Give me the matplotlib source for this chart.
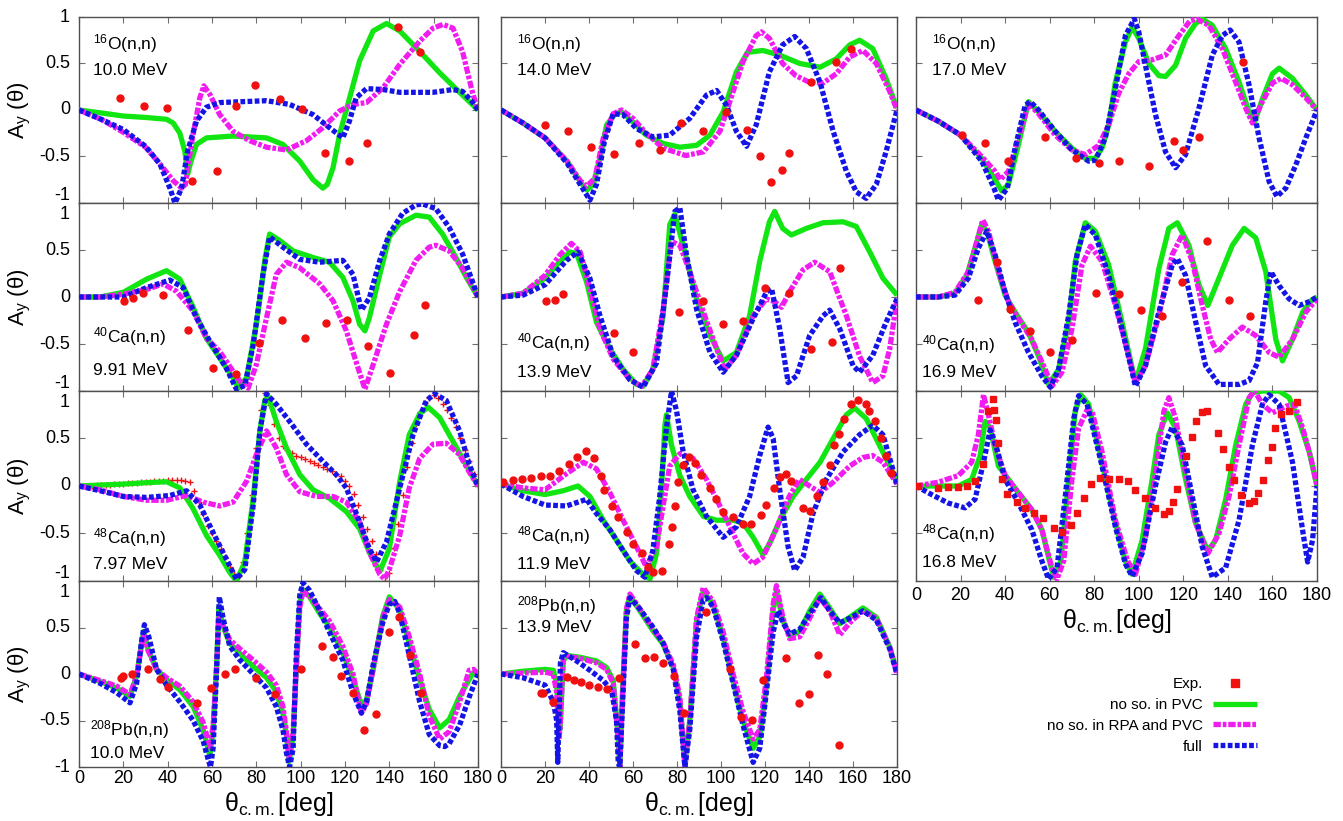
import matplotlib
matplotlib.use('Agg')
import matplotlib.pyplot as plt
from matplotlib.lines import Line2D

plt.rcParams['font.family'] = ['Liberation Sans', 'DejaVu Sans']
plt.rcParams['mathtext.fontset'] = 'custom'
plt.rcParams['mathtext.rm'] = 'Liberation Sans'
plt.rcParams['mathtext.it'] = 'Liberation Sans:italic'
plt.rcParams['mathtext.bf'] = 'Liberation Sans:bold'

# ---------------- data: (angle [deg], A_y) ----------------
O10_green = [(0,0),(9.5,-0.03),(20,-0.065),(30,-0.08),(39.5,-0.1),(42.5,-0.14),(45.5,-0.25),(47.8,-0.45),(49,-0.69),(50.5,-0.55),(53,-0.37),(57.5,-0.3),(69.5,-0.28),(84.6,-0.3),(92,-0.37),(99.6,-0.55),(105.6,-0.75),(110,-0.84),(112,-0.8),(114.6,-0.62),(117.6,-0.26),(120.6,0),(126.6,0.53),(132.7,0.85),(138.7,0.93),(144.7,0.85),(153.7,0.63),(162.7,0.4),(171.7,0.19),(180,0)]
O10_mag = [(0,0),(10,-0.1),(20,-0.24),(30,-0.4),(36.5,-0.58),(42.5,-0.76),(46.3,-0.84),(48,-0.8),(49,-0.62),(51.5,-0.26),(54.5,0.13),(56.3,0.26),(59,0.17),(63.5,-0.05),(69.5,-0.23),(77,-0.33),(84.6,-0.4),(93.6,-0.43),(102.6,-0.33),(110,-0.19),(117.6,-0.01),(123.6,0.06),(129.7,0.08),(137.2,0.24),(144.7,0.49),(153.7,0.74),(159.7,0.88),(164.2,0.92),(168.7,0.88),(173,0.63),(177.7,0.17),(180,0)]
O10_blue = [(0,0),(10,-0.1),(20,-0.21),(30,-0.39),(36.5,-0.58),(41,-0.84),(43.3,-1.0),(46.3,-0.84),(49,-0.44),(53,-0.12),(57.5,0.03),(63.5,0.08),(84.6,0.1),(95,0.06),(105.6,-0.05),(113,-0.19),(119,-0.3),(122,-0.12),(125,0.13),(129.7,0.23),(137.2,0.22),(144.7,0.19),(159.7,0.19),(168.7,0.22),(173,0.2),(177,0.1),(180,0)]
O10_exp = [(18.5,0.125),(29.3,0.047),(39.5,0.025),(50.8,-0.76),(62.3,-0.66),(71,0.04),(79.6,0.265),(90.6,0.115),(100.8,0.007),(110.9,-0.46),(121.8,-0.55),(130,-0.36),(144,0.89),(153.7,0.62)]

O14_green = [(0,0),(10,-0.14),(20,-0.3),(30,-0.55),(36,-0.77),(39,-0.86),(42,-0.8),(45,-0.52),(48,-0.16),(52,-0.04),(54.8,-0.02),(60,-0.13),(66,-0.27),(73.7,-0.36),(81.3,-0.4),(88.9,-0.38),(95,-0.27),(101,-0.02),(107,0.41),(112,0.62),(119,0.64),(126.7,0.59),(135.8,0.5),(145,0.46),(152.4,0.55),(158.5,0.7),(163,0.75),(169,0.66),(175,0.34),(180,0.02)]
O14_mag = [(0,0),(10,-0.14),(20,-0.3),(30,-0.55),(36,-0.76),(39,-0.82),(42.7,-0.73),(46.5,-0.3),(51,-0.04),(54.8,0),(60,-0.09),(66,-0.25),(73.7,-0.41),(84,-0.49),(92,-0.45),(99.5,-0.23),(104,0.09),(110,0.52),(116,0.8),(118.4,0.84),(122,0.77),(128,0.5),(134,0.37),(140,0.3),(146.4,0.29),(152.4,0.39),(158.5,0.57),(164.5,0.64),(170.6,0.5),(176.7,0.2),(180,0)]
O14_blue = [(0,0),(10,-0.14),(20,-0.3),(30,-0.57),(36,-0.8),(40.4,-0.97),(43.4,-0.8),(47,-0.34),(51,-0.04),(55.5,-0.05),(61.6,-0.2),(69,-0.29),(76.7,-0.27),(85.8,-0.09),(93.4,0.16),(98,0.21),(102.5,0.05),(107,-0.23),(111.6,-0.39),(116,-0.16),(122,0.41),(128,0.7),(133.5,0.79),(138.8,0.66),(145,0.3),(151,-0.23),(157,-0.66),(161.5,-0.88),(166,-0.95),(170.6,-0.8),(175,-0.45),(180,0)]
O14_exp = [(20,-0.16),(30.6,-0.23),(40.9,-0.4),(51.2,-0.47),(62.8,-0.35),(72.4,-0.43),(81.7,-0.14),(91.9,-0.23),(102.5,-0.02),(111.6,-0.22),(117.8,-0.5),(122.8,-0.77),(127.8,-0.64),(130.8,-0.46),(140.8,0.3),(152.4,0.52),(159,0.66)]

O17_green = [(0,0),(10,-0.12),(20,-0.27),(29.5,-0.52),(35.5,-0.75),(38.5,-0.87),(41.5,-0.8),(46,-0.37),(50.5,0.09),(55,-0.02),(62.5,-0.23),(70,-0.41),(76,-0.52),(80.5,-0.52),(83.5,-0.41),(86.5,-0.16),(89.5,0.3),(94,0.73),(97,0.89),(100,0.77),(104.5,0.5),(109,0.37),(112,0.36),(116.5,0.48),(121,0.77),(125.5,0.93),(128.5,0.98),(133,0.91),(139,0.66),(145,0.3),(149.5,-0.02),(152,-0.13),(155.5,0.12),(160,0.39),(163,0.45),(169,0.34),(175,0.16),(180,0)]
O17_mag = [(0,0),(10,-0.12),(20,-0.27),(29.5,-0.5),(35.5,-0.66),(37.8,-0.75),(41.5,-0.66),(46,-0.3),(50.5,0.07),(55,-0.04),(62.5,-0.27),(70,-0.43),(76,-0.48),(82,-0.38),(86.5,-0.16),(91,0.18),(95.5,0.39),(100,0.52),(106,0.54),(112,0.59),(118,0.8),(123,0.96),(126,0.98),(131.5,0.91),(137.5,0.66),(143.5,0.3),(148,0.02),(151,-0.14),(155.5,0.09),(160,0.29),(164,0.34),(169,0.27),(175,0.13),(180,0)]
O17_blue = [(0,0),(10,-0.12),(20,-0.27),(29.5,-0.55),(35,-0.84),(37,-0.97),(41,-0.84),(44.5,-0.41),(49,0.05),(51.3,0.09),(55,0),(62.5,-0.23),(70,-0.43),(77.5,-0.55),(80.5,-0.54),(85,-0.3),(89.5,0.23),(94,0.8),(98,0.98),(100,0.84),(103,0.48),(107.5,-0.05),(112,-0.45),(116.5,-0.62),(121,-0.48),(127,0.02),(133,0.59),(137.5,0.8),(141,0.86),(145,0.73),(149.5,0.27),(154,-0.3),(158.5,-0.77),(162,-0.93),(166,-0.84),(170.5,-0.59),(175,-0.3),(180,0)]
O17_exp = [(20.8,-0.27),(31,-0.35),(41.5,-0.55),(58,-0.29),(72,-0.52),(82,-0.57),(91,-0.55),(104.8,-0.6),(115.8,-0.33),(119.8,-0.43),(127,-0.29),(147,0.52)]

Ca40a_green = [(0,0),(9.5,0),(20,0.05),(30.5,0.19),(39.5,0.28),(45.5,0.19),(51.5,-0.11),(57.5,-0.44),(63.5,-0.65),(69.5,-0.86),(71.8,-0.97),(75.6,-0.86),(80,-0.29),(84,0.42),(86,0.67),(90.6,0.6),(96.6,0.49),(105.6,0.42),(113,0.37),(119,0.21),(123.6,-0.04),(126.6,-0.29),(129,-0.36),(131,-0.22),(135.7,0.24),(140,0.64),(144.7,0.78),(152,0.87),(158,0.85),(164,0.67),(170,0.42),(174.7,0.21),(180,0)]
Ca40a_mag = [(0,0),(9.5,0),(20,0.03),(30.5,0.08),(38,0.14),(44,0.06),(51.5,-0.15),(57.5,-0.44),(63.5,-0.58),(69.5,-0.79),(74,-0.94),(76.3,-0.97),(80,-0.72),(84.6,-0.22),(89,0.24),(93.6,0.37),(99.6,0.31),(108.6,0.14),(114.6,-0.04),(120.6,-0.36),(125,-0.69),(129,-0.98),(132.7,-0.72),(138.7,-0.29),(144.7,0.06),(152,0.39),(158,0.53),(161,0.55),(167,0.49),(173,0.31),(180,0)]
Ca40a_blue = [(0,0),(20,0),(30.5,0.1),(41,0.18),(47,0.1),(53,-0.22),(59,-0.47),(66.5,-0.76),(71,-0.98),(74.8,-0.94),(78.6,-0.51),(83,0.24),(86,0.64),(92,0.53),(99.6,0.4),(108.6,0.37),(119,0.39),(123.6,0.24),(127.4,-0.14),(131,-0.01),(135.7,0.39),(140,0.67),(146,0.89),(152,0.98),(155,0.99),(161,0.94),(167,0.74),(173,0.46),(180,0)]
Ca40a_exp = [(20.4,-0.04),(24.5,-0.01),(29,0.04),(38,0.02),(49.3,-0.35),(60.5,-0.75),(70.8,-0.82),(81.3,-0.49),(91.8,-0.24),(102,-0.44),(111.5,-0.28),(121,-0.24),(130.4,-0.52),(140.3,-0.81),(151,-0.4),(156,-0.08)]

Ca40b_green = [(0,0),(10,0.04),(20,0.2),(25.3,0.34),(31.3,0.48),(34.4,0.46),(38.9,0.16),(43.4,-0.27),(49.5,-0.55),(55.5,-0.77),(61.6,-0.93),(64.6,-0.95),(69,-0.77),(73.7,-0.2),(76.7,0.77),(79,0.88),(82.8,0.55),(88.9,-0.02),(95,-0.41),(101,-0.68),(107,-0.59),(113,-0.2),(117.6,0.38),(122,0.8),(124.4,0.91),(128,0.73),(132,0.66),(138.8,0.73),(146.4,0.79),(155.5,0.8),(161.5,0.75),(167.6,0.48),(173.6,0.2),(180,0.02)]
Ca40b_mag = [(0,0),(10,0.04),(20,0.23),(26.8,0.45),(32,0.57),(36,0.48),(40.4,0.09),(45,-0.34),(51,-0.66),(58.6,-0.88),(64,-0.95),(69,-0.77),(73.7,-0.13),(77.5,0.59),(81.3,0.55),(85.8,0.27),(92,-0.16),(98,-0.55),(101.7,-0.77),(107,-0.62),(114.6,-0.2),(120.6,-0.02),(124.4,-0.05),(127.5,-0.11),(131,0.05),(137.3,0.29),(142.6,0.37),(149.4,0.27),(157,-0.2),(163,-0.63),(169,-0.91),(173.6,-0.84),(176.7,-0.55),(180,-0.02)]
Ca40b_blue = [(0,0),(10,0.02),(20,0.13),(29.8,0.39),(35,0.48),(40.4,0.2),(45,-0.2),(51,-0.63),(58.6,-0.88),(64.6,-0.96),(70.7,-0.7),(75,0.09),(79,0.91),(81.3,0.95),(84.3,0.45),(88.9,-0.13),(95,-0.59),(101,-0.8),(107,-0.62),(114.6,-0.23),(120.6,0.05),(123,0.09),(126.7,-0.34),(130.5,-0.91),(134.3,-0.84),(140.3,-0.41),(146.4,-0.2),(149.4,-0.14),(154,-0.34),(160,-0.73),(163,-0.8),(169,-0.62),(175,-0.27),(180,-0.02)]
Ca40b_exp = [(20.4,-0.04),(24.5,-0.03),(28.3,0.03),(51.3,-0.38),(60.2,-0.59),(81,-0.16),(91.6,-0.04),(101,-0.29),(110,-0.25),(120,0.1),(130.8,0.04),(140.8,-0.55),(150.6,-0.48),(154.3,0.31)]

Ca40c_green = [(0,0),(10,0),(17.5,0.04),(22.8,0.23),(26.5,0.52),(29.5,0.77),(31.8,0.7),(35.5,0.38),(40,0.02),(44.5,-0.16),(50.5,-0.38),(55,-0.63),(59.5,-0.93),(64,-0.77),(68.5,-0.27),(71.5,0.38),(76,0.79),(80.5,0.7),(86.5,0.34),(92.5,-0.27),(98.5,-0.91),(103,-0.55),(109,0.3),(113.5,0.73),(117.3,0.79),(122.5,0.55),(127,0.13),(131,-0.09),(136,0.2),(142,0.55),(147.3,0.73),(152.5,0.63),(157,0.27),(161.5,-0.45),(164.5,-0.68),(169,-0.45),(173.6,-0.16),(177.3,-0.04),(180,0)]
Ca40c_mag = [(0,0),(10,0),(17.5,0.05),(23.5,0.27),(27.3,0.59),(30,0.82),(32.5,0.7),(37,0.27),(41.5,-0.05),(46,-0.23),(52,-0.45),(58,-0.77),(61,-0.95),(65.5,-0.8),(70,-0.34),(74.5,0.34),(78.3,0.54),(83.5,0.38),(89.5,-0.09),(95.5,-0.63),(98.5,-0.91),(103,-0.73),(109,-0.2),(115,0.45),(119.5,0.66),(124,0.38),(128.5,-0.09),(132.3,-0.45),(135.3,-0.59),(140.5,-0.45),(146.5,-0.32),(152.5,-0.41),(158.5,-0.59),(163,-0.64),(169,-0.45),(175,-0.16),(180,-0.02)]
Ca40c_blue = [(0,0),(10,0),(17.5,0.02),(23.5,0.2),(28,0.52),(31.8,0.7),(35.5,0.45),(40,0.05),(44.5,-0.27),(50.5,-0.59),(56.5,-0.84),(60.3,-0.96),(64,-0.77),(68.5,-0.2),(72.3,0.45),(76,0.77),(80.5,0.66),(86.5,0.23),(92.5,-0.34),(98.5,-0.95),(103,-0.73),(109,-0.16),(115,0.34),(117.3,0.41),(121,0.23),(125.6,-0.27),(130,-0.73),(136,-0.93),(145,-0.93),(149.5,-0.89),(153.3,-0.7),(157,-0.05),(159.3,0.27),(163,0.12),(167.5,-0.02),(172,-0.09),(176.5,-0.05),(180,0)]
Ca40c_exp = [(28,-0.03),(36.3,0.37),(42.3,-0.13),(51.3,-0.36),(60,-0.58),(70,-0.46),(81,0.04),(91.3,0.03),(100.8,-0.14),(110.5,-0.2),(119.5,0.16),(130.5,0.6),(140.5,-0.03),(150,-0.2)]

Ca48a_green = [(0,0),(9.5,0.01),(20,0.02),(30.5,0.035),(39.5,0.045),(45.5,-0.02),(51.5,-0.24),(57.5,-0.52),(63.5,-0.73),(68,-0.91),(71,-1.0),(74.8,-0.8),(78.6,-0.13),(81.6,0.58),(83.8,0.9),(85.3,0.95),(89,0.68),(93.6,0.4),(99.6,0.12),(105.6,-0.04),(113,-0.13),(120.6,-0.27),(126.6,-0.45),(131,-0.7),(135.7,-0.9),(140,-0.66),(144.7,0.05),(149,0.54),(153.7,0.76),(157.5,0.83),(162.7,0.72),(168.7,0.47),(174.7,0.22),(180,0)]
Ca48a_mag = [(0,0),(9.5,-0.04),(20,-0.11),(30.5,-0.15),(39.5,-0.15),(48.5,-0.1),(56,-0.17),(63.5,-0.21),(69.5,-0.17),(75.6,0.05),(80,0.33),(84.6,0.58),(89,0.4),(93.6,0.12),(99.6,-0.06),(107,-0.11),(114.6,-0.11),(120.6,-0.17),(126.6,-0.38),(131,-0.7),(135.7,-0.93),(137.9,-0.98),(140,-0.88),(144.7,-0.52),(149,-0.02),(153.7,0.29),(159.7,0.44),(165.7,0.45),(171.7,0.33),(176,0.15),(180,0)]
Ca48a_blue = [(0,0),(9.5,-0.05),(20,-0.11),(30.5,-0.12),(41,-0.1),(48.5,-0.05),(54.5,-0.2),(60.5,-0.49),(66.5,-0.77),(71,-0.98),(74.8,-0.88),(78.6,-0.2),(81.6,0.58),(84.6,0.97),(89,0.86),(95,0.68),(102.6,0.44),(110,0.26),(116,0.12),(120.6,-0.02),(126.6,-0.38),(131,-0.66),(134.2,-0.8),(138.7,-0.59),(144.7,-0.02),(150.7,0.54),(156.7,0.9),(160.5,0.97),(165.7,0.9),(171.7,0.58),(176,0.23),(180,0)]
Ca48a_exp_angle = [0,2,4,6,8,10,12,14,16,18,20,22,24,26,28,30,32,34,36,38,40,42,44,46,48,50,52,54,56,58,60,62,64,66,68,70,72,74,76,78,80,82,84,86,88,90,92,94,96,98,100,102,104,106,108,110,112,114,116,118,120,122,124,126,128,130,132,134,136,138,140,142,144,146,148,150,152,154,156,158,160,162,164,166,168,170,172,174,176,178,180]
Ca48a_exp_value = [0,0,0,0.005,0.01,0.01,0.015,0.015,0.02,0.02,0.025,0.03,0.03,0.035,0.04,0.04,0.045,0.05,0.05,0.055,0.06,0.06,0.06,0.06,0.055,0.04,-0.05,-0.17,-0.3,-0.42,-0.5,-0.58,-0.66,-0.75,-0.85,-0.93,-0.95,-0.8,-0.5,-0.1,0.4,0.8,0.98,0.85,0.65,0.5,0.42,0.38,0.35,0.32,0.3,0.28,0.26,0.24,0.22,0.2,0.18,0.16,0.13,0.1,0.05,0.0,-0.08,-0.2,-0.33,-0.45,-0.58,-0.72,-0.88,-1.0,-0.92,-0.65,-0.4,-0.1,0.2,0.45,0.65,0.78,0.87,0.93,0.96,0.93,0.86,0.8,0.72,0.62,0.5,0.38,0.26,0.13,0]

Ca48b_green = [(0,0.02),(10,-0.05),(20,-0.09),(28.3,-0.05),(35,0),(40.4,-0.11),(46.5,-0.36),(52.5,-0.57),(58.6,-0.79),(64.6,-0.93),(67.7,-0.98),(70.7,-0.71),(73,0),(74.5,0.64),(75.2,0.75),(77.5,0.43),(81.3,0.11),(85.8,-0.11),(92,-0.32),(98,-0.36),(105.5,-0.36),(110,-0.39),(114.6,-0.54),(119,-0.72),(122,-0.61),(126.7,-0.36),(132.8,-0.11),(138.8,0.07),(145,0.25),(151,0.5),(157,0.75),(160.8,0.82),(166,0.71),(172,0.43),(176.7,0.21),(180,0.04)]
Ca48b_mag = [(0,0.02),(10,-0.02),(20,-0.04),(29.8,0.13),(37.4,0.25),(43.4,0.18),(49.5,-0.07),(55.5,-0.36),(61.6,-0.64),(66,-0.85),(70.7,-0.64),(73.7,-0.21),(76.7,0.21),(81.3,0.34),(87.3,0.29),(93.4,0.07),(99.5,-0.21),(105.5,-0.5),(110,-0.71),(114.6,-0.82),(119,-0.75),(125,-0.46),(131,-0.11),(135.7,0.07),(140.3,0),(145,-0.07),(151,0.04),(158.5,0.21),(164.5,0.3),(169,0.32),(173.6,0.25),(180,0.02)]
Ca48b_blue = [(0,0.02),(10,-0.11),(20,-0.2),(29.8,-0.21),(38.9,-0.14),(43.4,-0.29),(49.5,-0.46),(55.5,-0.68),(61.6,-0.89),(65.4,-0.96),(69,-0.68),(72,-0.14),(75.2,0.61),(77.5,1.0),(79.8,0.79),(82.8,0.36),(87.3,-0.04),(93.4,-0.32),(101,-0.54),(107,-0.43),(113,-0.11),(117.6,0.32),(121.4,0.62),(123.7,0.5),(126.7,-0.04),(130.5,-0.64),(133.5,-0.89),(137.3,-0.75),(141.8,-0.29),(147.9,0.07),(155.5,0.36),(163,0.54),(169,0.64),(173.6,0.54),(176.7,0.29),(180,0.02)]
Ca48b_exp = [(0.8,0.04),(5.3,0.06),(9.4,0.07),(13.6,0.08),(18,0.1),(22.3,0.11),(26.5,0.16),(30.9,0.23),(34.7,0.3),(38.8,0.37),(42.2,0.29),(45.4,0.11),(46.9,-0.04),(50.3,-0.21),(53.3,-0.33),(57.1,-0.48),(60.1,-0.61),(63.9,-0.71),(66.9,-0.85),(69.2,-0.91),(73,-0.9),(76.4,-0.61),(77.5,-0.43),(79,-0.21),(80.5,0.04),(82.5,0.22),(85.5,0.3),(88.1,0.24),(90.7,0.12),(94.9,-0.02),(97.6,-0.14),(101,-0.27),(105.5,-0.33),(110,-0.4),(113.8,-0.4),(118.4,-0.31),(120.6,-0.2),(124,-0.02),(126.7,0.09),(129.4,0.13),(131.7,0.05),(137.3,-0.23),(140.6,-0.26),(143.7,-0.11),(146.4,0.04),(149.4,0.22),(151.2,0.43),(153.5,0.55),(155.8,0.71),(159,0.86),(162.3,0.9),(165.8,0.86),(167.3,0.79),(169.8,0.68),(172.9,0.5),(175.1,0.32),(177.4,0.14)]

Ca48c_green = [(0,0),(10,0),(19,0),(25,0.07),(28.8,0.32),(31,0.68),(33.3,0.61),(37,0.21),(41.5,0.07),(46,-0.07),(52,-0.25),(56.5,-0.46),(59.5,-0.75),(61.8,-0.96),(65,-0.79),(68.5,0.07),(71.5,0.79),(74,0.96),(77.5,0.86),(83.5,0.25),(89.5,-0.39),(94,-0.79),(97,-0.93),(101.5,-0.57),(106,0.07),(109,0.54),(112.8,0.77),(116.5,0.61),(121,0.07),(125.5,-0.39),(131,-0.68),(134.5,-0.57),(139,-0.14),(143.5,0.43),(148,0.86),(151,0.98),(155.5,1.0),(163,1.0),(167.5,0.93),(172,0.68),(176.5,0.36),(180,0)]
Ca48c_mag = [(0,0),(10,0.04),(19,0.11),(25,0.25),(28,0.54),(30.3,0.96),(32.5,0.75),(35.5,0.43),(40,0.11),(46,-0.07),(52,-0.25),(56.5,-0.46),(61,-0.86),(63.3,-0.98),(66.3,-0.79),(70,0.07),(73,0.61),(76.8,0.8),(79,0.79),(83.5,0.36),(89.5,-0.36),(95,-0.79),(98.5,-0.93),(103,-0.54),(107.5,0.14),(111.3,0.79),(113.5,0.93),(116.5,0.71),(121,0.14),(125.5,-0.39),(131,-0.71),(136,-0.5),(140.5,-0.11),(145,0.43),(149.5,0.93),(152,1.0),(155.5,0.86),(160,0.77),(166,0.84),(169.8,0.86),(173.6,0.61),(177.3,0.29),(180,0)]
Ca48c_blue = [(0,0),(7,-0.09),(14.5,-0.18),(22,-0.23),(26.5,-0.14),(30.3,0.25),(33.3,0.59),(36.3,0.39),(40,0.07),(46,-0.18),(52,-0.46),(56.5,-0.79),(59.5,-0.98),(63.3,-0.86),(67,-0.11),(70.8,0.71),(73,0.95),(76.8,0.86),(83.5,0.21),(89.5,-0.43),(94,-0.82),(97,-0.95),(101.5,-0.71),(107.5,0),(112,0.46),(115,0.62),(119.5,0.43),(124,-0.11),(128.5,-0.64),(133,-0.96),(139,-0.86),(145,-0.36),(151,0.43),(155.5,0.86),(158.5,0.96),(163,0.86),(169,0.25),(173.5,-0.46),(175.8,-0.8),(178,-0.57),(180,0)]
Ca48c_exp = [(1,0),(10,-0.02),(14.5,-0.01),(19,-0.01),(22.8,0),(26.5,0.05),(30,0.23),(32.5,0.79),(34.5,0.92),(35.2,0.8),(36,0.69),(37,0.45),(38.5,0.07),(41,-0.08),(45.3,-0.17),(49,-0.23),(53,-0.28),(57,-0.34),(61.8,-0.44),(65.5,-0.48),(69.6,-0.41),(72.3,-0.28),(75.3,-0.13),(78.6,0.02),(82.5,0.08),(86.5,0.07),(91,0.07),(95.2,0.05),(98.5,-0.04),(103,-0.13),(107.2,-0.23),(111.3,-0.29),(113.5,-0.26),(115.3,-0.17),(117.3,-0.03),(121.3,0.32),(123.8,0.52),(125.8,0.68),(128.2,0.78),(130.5,0.79),(135.7,0.56),(138,0.39),(140.5,0.2),(142.8,0.06),(145.8,-0.1),(149.5,-0.18),(151.8,-0.16),(153.7,-0.07),(155.8,0.06),(157.8,0.27),(159.6,0.41),(161.2,0.61),(163.8,0.76),(167.5,0.79),(170.8,0.88)]

Pb10_green = [(0,0),(9.5,-0.08),(17,-0.15),(23,-0.24),(26,-0.02),(28.2,0.33),(29.3,0.46),(31.2,0.26),(35,0.05),(39.5,-0.06),(45.5,-0.17),(51.5,-0.35),(56,-0.6),(58.3,-0.81),(59,-0.88),(60.5,-0.6),(62,0.05),(63.1,0.72),(65,0.51),(68,0.33),(72.6,0.22),(78.6,0.08),(84.6,-0.04),(89,-0.19),(92,-0.42),(93.6,-0.67),(94.8,-0.94),(96.6,-0.67),(98,0.05),(99.6,0.76),(101,0.9),(104,0.83),(108.6,0.65),(113,0.51),(119,0.23),(123.6,-0.06),(127.4,-0.33),(129.7,-0.28),(132.7,0.05),(137,0.62),(140,0.83),(144.7,0.69),(149,0.33),(153.7,-0.06),(158,-0.38),(162.7,-0.58),(167,-0.49),(171.7,-0.24),(176,-0.06),(177.7,0.01),(180,0)]
Pb10_mag = [(0,0),(9.5,-0.07),(17,-0.13),(23,-0.22),(26,-0.02),(28.2,0.3),(29.3,0.43),(31.2,0.25),(35,0.05),(39.5,-0.04),(45.5,-0.13),(51.5,-0.3),(56,-0.52),(58.3,-0.72),(59,-0.78),(60.5,-0.55),(62,0.05),(63.1,0.6),(65,0.52),(68,0.37),(72.6,0.27),(78.6,0.15),(84.6,0.02),(89,-0.12),(92,-0.35),(93.6,-0.62),(94.8,-0.9),(96.6,-0.62),(98,0.05),(99.6,0.72),(101,0.88),(104,0.84),(108.6,0.7),(113,0.57),(119,0.3),(123.6,0),(127.4,-0.42),(129.7,-0.32),(132.7,0.05),(137,0.6),(140,0.8),(144.7,0.72),(149,0.4),(153.7,0),(158,-0.45),(162.7,-0.7),(167,-0.62),(171.7,-0.3),(176,0.04),(178,0.05),(180,0)]
Pb10_blue = [(0,0),(9.5,-0.1),(17,-0.2),(23,-0.31),(26,-0.1),(28.2,0.35),(29.5,0.53),(31.5,0.4),(35,0.05),(39.5,-0.12),(45.5,-0.3),(51.5,-0.5),(56,-0.72),(58.3,-0.92),(59.3,-1.0),(60.5,-0.8),(62,0),(63.3,0.83),(65,0.6),(68,0.3),(72.6,0.15),(78.6,0),(84.6,-0.15),(89,-0.35),(92,-0.6),(93.6,-0.85),(95,-1.0),(96.6,-0.8),(98,0.2),(99.6,0.85),(101,0.98),(104,0.9),(108.6,0.68),(113,0.45),(119,0.15),(123.6,-0.2),(127.4,-0.42),(129.7,-0.3),(132.7,0.1),(137,0.55),(140,0.75),(142.5,0.78),(144.7,0.65),(149,0.2),(153.7,-0.3),(158,-0.65),(162.7,-0.77),(165,-0.78),(167,-0.75),(171.7,-0.55),(176,-0.25),(180,0)]
Pb10_exp = [(19,-0.04),(20,-0.02),(23.7,0),(31,0.05),(36.5,-0.05),(40.3,-0.14),(53.3,-0.31),(59.5,-0.15),(65.8,0),(70.3,0.05),(79.8,-0.04),(88.3,-0.21),(100,0.05),(109.8,0.3),(114.6,0.18),(118.4,-0.02),(123.6,-0.2),(128.5,-0.6),(134.2,-0.43),(140,0.45),(144.3,0.61),(149.5,0.2),(154.2,-0.2)]

Pb14_green = [(0,0),(10,0.03),(20,0.05),(23.8,0.04),(25.3,-0.11),(26.3,-0.5),(26.8,-0.6),(28.3,0.14),(29.8,0.2),(35.9,0.18),(43.4,0.14),(48,0.07),(51,-0.07),(53.3,-0.68),(54,-1.0),(55.3,-0.14),(57,0.68),(58.6,0.84),(63.1,0.68),(69.2,0.46),(73.7,0.32),(78.3,0.07),(81.3,-0.29),(83.6,-0.96),(85.8,-0.5),(88.9,0.57),(91.9,0.89),(96.4,0.75),(101,0.39),(105.5,-0.07),(110,-0.5),(114.6,-0.8),(117.6,-0.68),(120.6,-0.14),(123.7,0.68),(125.2,0.89),(128.2,0.57),(131.2,0.41),(135.8,0.46),(140.3,0.68),(144.9,0.86),(149.4,0.71),(154,0.54),(158.5,0.61),(164.5,0.71),(170.6,0.61),(176.7,0.29),(180,0.02)]
Pb14_mag = [(0,0),(10,0.01),(20,0.02),(23.8,0.0),(25.3,-0.2),(26.3,-0.7),(26.8,-0.6),(28.3,0.16),(29.8,0.19),(35.9,0.17),(43.4,0.12),(48,0.05),(51,-0.1),(53.3,-0.7),(54,-1.0),(55.3,-0.2),(57,0.7),(58.6,0.86),(63.1,0.7),(69.2,0.48),(73.7,0.34),(78.3,0.1),(81.3,-0.25),(83.6,-1.0),(85.8,-0.5),(88.9,0.6),(91.9,0.93),(96.4,0.78),(101,0.45),(105.5,0.0),(110,-0.4),(114.6,-0.7),(117.6,-0.6),(120.6,-0.05),(123.7,0.75),(125.2,0.95),(128.2,0.6),(131.2,0.38),(135.8,0.4),(140.3,0.6),(144.9,0.82),(149.4,0.68),(154,0.42),(158.5,0.55),(164.5,0.68),(170.6,0.6),(176.7,0.29),(180,0)]
Pb14_blue = [(0,0),(10,-0.04),(20,-0.12),(23.8,-0.3),(25.3,-0.5),(25.8,-0.95),(27,0.12),(28.3,0.23),(34.4,0.14),(40.4,0.04),(46.5,-0.07),(50.3,-0.18),(52.5,-0.5),(53.3,-0.96),(54,-1.0),(55.3,-0.3),(57,0.6),(58.6,0.82),(63.1,0.7),(69.2,0.5),(73.7,0.33),(78.3,0.05),(81.3,-0.4),(83.6,-1.0),(85.8,-0.6),(88.9,0.4),(91.9,0.8),(93.5,0.82),(96.4,0.72),(101,0.35),(105.5,-0.1),(110,-0.55),(114.6,-0.95),(117.6,-0.8),(120.6,-0.2),(123.7,0.45),(126,0.68),(128.2,0.55),(131.2,0.43),(135.8,0.48),(140.3,0.65),(145.5,0.82),(149.4,0.68),(154,0.55),(158.5,0.6),(164.5,0.68),(170.6,0.58),(176.7,0.27),(180,0)]
Pb14_exp = [(18,-0.2),(19.2,-0.2),(23.8,-0.3),(29.8,-0.03),(33.2,-0.06),(36.2,-0.09),(40,-0.12),(43.9,-0.14),(48,-0.16),(53.6,-0.04),(60.9,0.32),(65.4,0.17),(69.6,0.18),(73.7,0.12),(78.6,-0.02),(83.3,-0.42),(93.4,0.67),(104,0.05),(109.3,-0.46),(114.3,-0.49),(119.1,-0.06),(129.7,0.17),(135.5,-0.31),(139.9,-0.22),(144.1,0.2),(148.3,0),(153.6,-0.76)]

nucleus_labels = [r'$^{16}$O(n,n)', r'$^{40}$Ca(n,n)', r'$^{48}$Ca(n,n)', r'$^{208}$Pb(n,n)']
energy_labels = [['10.0 MeV', '14.0 MeV', '17.0 MeV'],
                 ['9.91 MeV', '13.9 MeV', '16.9 MeV'],
                 ['7.97 MeV', '11.9 MeV', '16.8 MeV'],
                 ['10.0 MeV', '13.9 MeV', None]]
x_ticks = [0, 20, 40, 60, 80, 100, 120, 140, 160, 180]
legend_labels = ['Exp.', 'no so. in PVC', 'no so. in RPA and PVC', 'full']

# ---------------- styling ----------------
W, H = 1343, 821
GREEN = '#12e612'
MAGENTA = '#f01cf0'
BLUE = '#1414e6'
RED = '#f01010'
LW = 3.8
green_style = dict(color=GREEN, lw=LW, solid_capstyle='butt', zorder=3)
mag_style = dict(color=MAGENTA, lw=LW, dashes=(1.4, 0.35, 0.7, 0.35), zorder=4)
blue_style = dict(color=BLUE, lw=LW, dashes=(0.9, 0.45), zorder=5)

col_px = [(79, 478), (501, 897), (916, 1317)]
row_px = [(17, 203), (203, 391), (391, 581), (581, 767)]

panels = [
    (0, 0, O10_green, O10_mag, O10_blue, O10_exp, 'o'),
    (0, 1, O14_green, O14_mag, O14_blue, O14_exp, 'o'),
    (0, 2, O17_green, O17_mag, O17_blue, O17_exp, 'o'),
    (1, 0, Ca40a_green, Ca40a_mag, Ca40a_blue, Ca40a_exp, 'o'),
    (1, 1, Ca40b_green, Ca40b_mag, Ca40b_blue, Ca40b_exp, 'o'),
    (1, 2, Ca40c_green, Ca40c_mag, Ca40c_blue, Ca40c_exp, 'o'),
    (2, 0, Ca48a_green, Ca48a_mag, Ca48a_blue, list(zip(Ca48a_exp_angle, Ca48a_exp_value)), '+'),
    (2, 1, Ca48b_green, Ca48b_mag, Ca48b_blue, Ca48b_exp, 'o'),
    (2, 2, Ca48c_green, Ca48c_mag, Ca48c_blue, Ca48c_exp, 's'),
    (3, 0, Pb10_green, Pb10_mag, Pb10_blue, Pb10_exp, 'o'),
    (3, 1, Pb14_green, Pb14_mag, Pb14_blue, Pb14_exp, 'o'),
]

# label positions (axes fraction) per (row, col): (x, y_nucleus, y_energy)
label_pos = {
    (0, 0): (0.035, 0.855, 0.715), (0, 1): (0.04, 0.855, 0.715), (0, 2): (0.04, 0.855, 0.715),
    (1, 0): (0.035, 0.29, 0.11), (1, 1): (0.04, 0.26, 0.10), (1, 2): (0.015, 0.245, 0.10),
    (2, 0): (0.035, 0.23, 0.085), (2, 1): (0.04, 0.24, 0.085), (2, 2): (0.015, 0.25, 0.095),
    (3, 0): (0.028, 0.20, 0.075), (3, 1): (0.04, 0.87, 0.75),
}

def xy(pairs):
    return [p[0] for p in pairs], [p[1] for p in pairs]

fig = plt.figure(figsize=(W / 100, H / 100), dpi=100)

for (r, c, gr, mg, bl, ex, mk) in panels:
    x0, x1 = col_px[c]
    y0, y1 = row_px[r]
    ax = fig.add_axes([x0 / W, 1 - y1 / H, (x1 - x0) / W, (y1 - y0) / H])
    ax.set_xlim(0, 180)
    ax.set_ylim(-1.0, 1.0)

    ex_x, ex_y = xy(ex)
    if mk == 'o':
        ax.plot(ex_x, ex_y, 'o', color=RED, ms=5.0, mec=RED, zorder=6)
    elif mk == '+':
        ax.plot(ex_x, ex_y, '+', color=RED, ms=4.5, mew=1.0, zorder=2.5)
    else:
        ax.plot(ex_x, ex_y, 's', color=RED, ms=4.2, zorder=6)

    gx, gy = xy(gr)
    ax.plot(gx, gy, **green_style)
    mx, my = xy(mg)
    ax.plot(mx, my, **mag_style)
    bx, by = xy(bl)
    ax.plot(bx, by, **blue_style)

    ax.set_xticks(x_ticks)
    ax.set_yticks([-1, -0.5, 0, 0.5, 1])
    ax.tick_params(direction='in', length=4, width=0.8, color='#707070',
                   top=True, right=True, labelleft=False, labelsize=13)
    for sp in ax.spines.values():
        sp.set_color('#505050')
        sp.set_linewidth(1.0)

    bottom = (r == 3) or (r == 2 and c == 2)
    if bottom:
        ax.tick_params(axis='x', labelbottom=True, pad=2 if c < 2 else 4.5)
        ax.set_xlabel(r'θ$_{\mathrm{c.m.}}$[deg]', fontsize=18, labelpad=2)
    else:
        ax.tick_params(axis='x', labelbottom=False)

    if c == 0:
        top_pos = 1.0 if r == 0 else 0.88
        bot_pos = -1.0 if r == 3 else -0.92
        for val, txt in [(top_pos, '1'), (0.5, '0.5'), (0, '0'), (-0.5, '-0.5'), (bot_pos, '-1')]:
            ax.text(-0.0225, val, txt, transform=ax.get_yaxis_transform(),
                    ha='right', va='center', fontsize=13)
        ax.text(-0.148, 0.5, r'A$_{\mathrm{y}}$ (θ)', transform=ax.transAxes,
                rotation=90, ha='center', va='center', fontsize=16)

    lx, ly1, ly2 = label_pos[(r, c)]
    ax.text(lx, ly1, nucleus_labels[r], transform=ax.transAxes, ha='left', va='center', fontsize=12.5)
    ax.text(lx, ly2, energy_labels[r][c], transform=ax.transAxes, ha='left', va='center', fontsize=12.5)

handles = [
    Line2D([], [], marker='s', color=RED, linestyle='None', ms=6),
    Line2D([], [], **{k: v for k, v in green_style.items() if k != 'zorder'}),
    Line2D([], [], **{k: v for k, v in mag_style.items() if k != 'zorder'}),
    Line2D([], [], **{k: v for k, v in blue_style.items() if k != 'zorder'}),
]
fig.legend(handles, legend_labels, loc='upper right', bbox_to_anchor=(1257 / W, 1 - 677 / H),
           markerfirst=False, frameon=False, fontsize=11, handlelength=2.9,
           handletextpad=0.65, labelspacing=0.45, borderpad=0, borderaxespad=0)

fig.savefig('out.png', dpi=100)
